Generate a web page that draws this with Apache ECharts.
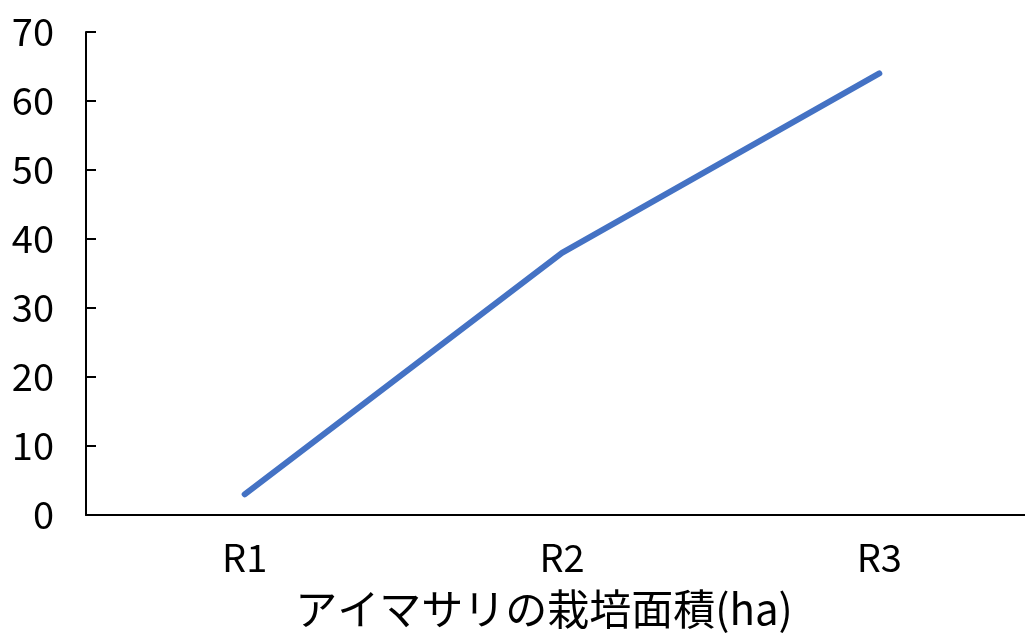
<!DOCTYPE html>
<html>
<head>
<meta charset="utf-8">
<script src="https://cdn.jsdelivr.net/npm/echarts@6/dist/echarts.min.js"></script>
<style>
  html, body { margin: 0; padding: 0; background: #fff; overflow: hidden; }
  #chart { width: 1045px; height: 633px; }
</style>
</head>
<body>
<div id="chart"></div>
<script>
// ======================
// DATA
// ======================

const categories = ['R1', 'R2', 'R3'];
const areaValues = [3, 38, 64];
const axisTitle = 'アイマサリの栽培面積(ha)';

// ======================
// CHART
// ======================

// the plot runs past the right edge of the window, so the canvas is a bit wider than 1025
const chart = echarts.init(document.getElementById('chart'));

const labelFont = "'Noto Sans CJK JP', sans-serif";

chart.setOption({
    animation: false,
    title: {
        text: axisTitle,
        left: 539,
        top: 583,
        textAlign: 'center',
        textStyle: {
            fontFamily: "'Noto Sans CJK JP', sans-serif",
            fontSize: 42,
            fontWeight: 'normal',
            color: '#000'
        }
    },
    grid: {
        left: 86,
        right: 7,
        top: 32,
        bottom: 118
    },
    xAxis: {
        type: 'category',
        data: categories,
        boundaryGap: true,
        axisLine: { lineStyle: { color: '#000', width: 2 } },
        axisTick: { show: false },
        axisLabel: {
            margin: 24,
            fontFamily: labelFont,
            fontSize: 38,
            color: '#000'
        }
    },
    yAxis: {
        type: 'value',
        min: 0,
        max: 70,
        interval: 10,
        axisLine: { show: true, lineStyle: { color: '#000', width: 2 } },
        axisTick: { show: true, inside: true, length: 10, lineStyle: { color: '#000', width: 2 } },
        splitLine: { show: false },
        axisLabel: {
            margin: 32,
            fontFamily: labelFont,
            fontSize: 38,
            color: '#000'
        }
    },
    series: [
        {
            type: 'line',
            data: areaValues,
            symbol: 'none',
            lineStyle: { color: '#4472C4', width: 6, cap: 'round', join: 'round' }
        }
    ]
});
</script>
</body>
</html>
